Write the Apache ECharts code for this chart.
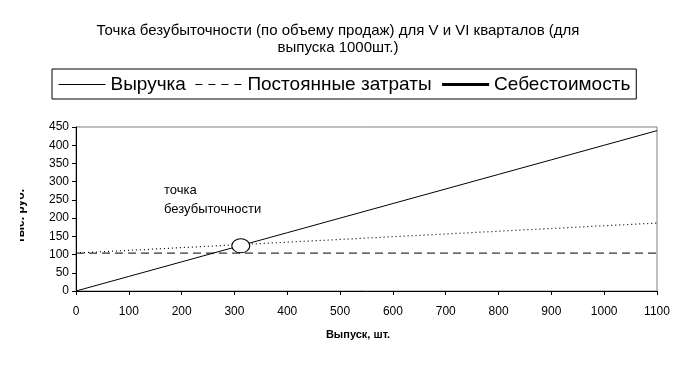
<!DOCTYPE html>
<html><head><meta charset="utf-8">
<script src="https://cdn.jsdelivr.net/npm/echarts@6/dist/echarts.min.js"></script>
<style>html,body{margin:0;padding:0;background:#fff}#c{width:692px;height:367px}</style>
</head><body><div id="c"></div>
<script>
const titleText = "Точка безубыточности (по объему продаж) для V и VI кварталов (для\nвыпуска 1000шт.)";
const seriesNames = ["Выручка", "Постоянные затраты", "Себестоимость"];
const output = [0, 100, 200, 300, 400, 500, 600, 700, 800, 900, 1000, 1100];
const revenue = [0, 40, 80, 120, 160, 200, 240, 280, 320, 360, 400, 440];
const fixedCosts = [104, 104, 104, 104, 104, 104, 104, 104, 104, 104, 104, 104];
const totalCost = [104, 111.5, 119, 126.5, 134, 141.5, 149, 156.5, 164, 171.5, 179, 186.5];
const breakEvenX = [312];
const breakEvenY = [124];
const breakEvenLabel = "точка\nбезубыточности";
const xAxisName = "Выпуск, шт.";
const yAxisName = "тыс. руб.";

const font = "'Liberation Sans', Arial, sans-serif";
const pairs = a => output.map((x, i) => [x, a[i]]);

const chart = echarts.init(document.getElementById('c'), null, {renderer: 'canvas'});
chart.setOption({
  animation: false,
  backgroundColor: '#fff',
  textStyle: {fontFamily: font, color: '#000'},
  title: {
    text: titleText, left: 333, top: 17, textAlign: 'center',
    textStyle: {fontSize: 15, fontWeight: 'normal', color: '#000', fontFamily: font, lineHeight: 17}
  },
  legend: {
    left: 52, top: 69, padding: [6, 6, 5, 6], itemGap: 9, itemWidth: 47, itemHeight: 10,
    borderColor: '#000', borderWidth: 1,
    textStyle: {fontSize: 19, color: '#000', fontFamily: font},
    data: [
      {name: seriesNames[0], itemStyle: {opacity: 0}, lineStyle: {width: 1, color: '#000', type: 'solid'}},
      {name: seriesNames[1], itemStyle: {opacity: 0}, lineStyle: {width: 1, color: '#000', type: [7, 6]}},
      {name: seriesNames[2], itemStyle: {opacity: 0}, lineStyle: {width: 3, color: '#000', type: 'solid'}}
    ]
  },
  grid: {left: 76, top: 127, width: 581, height: 164, show: true, borderColor: '#808080', borderWidth: 1},
  xAxis: {
    type: 'value', min: 0, max: 1100, interval: 100,
    axisLine: {lineStyle: {color: '#000'}},
    axisTick: {length: 4, lineStyle: {color: '#000'}},
    axisLabel: {fontSize: 12, color: '#000', margin: 15, fontFamily: font, formatter: v => String(v)},
    splitLine: {show: false}
  },
  yAxis: {
    type: 'value', min: 0, max: 450, interval: 50,
    axisLine: {show: true, lineStyle: {color: '#000'}},
    axisTick: {show: true, length: 4, lineStyle: {color: '#000'}},
    axisLabel: {fontSize: 12, color: '#000', margin: 7, fontFamily: font, formatter: v => String(v)},
    splitLine: {show: false}
  },
  series: [
    {name: seriesNames[0], type: 'line', data: pairs(revenue), symbol: 'none',
      lineStyle: {color: '#000', width: 1}, itemStyle: {color: '#000'}, z: 3},
    {name: seriesNames[1], type: 'line', data: pairs(fixedCosts), symbol: 'none',
      lineStyle: {color: '#000', width: 1, type: [8, 5]}, itemStyle: {color: '#000'}, z: 3},
    {name: seriesNames[2], type: 'line', data: pairs(totalCost), symbol: 'none',
      lineStyle: {color: '#000', width: 1.2, type: [1, 3]}, itemStyle: {color: '#000'}, z: 3},
    {name: 'bep', type: 'scatter', data: breakEvenX.map((x, i) => [x, breakEvenY[i]]),
      symbol: 'circle', symbolSize: [18, 14],
      itemStyle: {color: '#fff', borderColor: '#000', borderWidth: 1, opacity: 1}, z: 5,
      label: {show: false}}
  ],
  graphic: [
    {type: 'text', left: 164, top: 181,
      style: {text: breakEvenLabel, fontSize: 13, fill: '#000', fontFamily: font, lineHeight: 19}},
    {type: 'text', x: 358, y: 335,
      style: {text: xAxisName, fontSize: 11, fontWeight: 'bold', fill: '#000', fontFamily: font,
        textAlign: 'center', textVerticalAlign: 'middle'}},
    {type: 'text', x: 27, y: 216, rotation: Math.PI / 2,
      style: {text: yAxisName, fontSize: 12, fontWeight: 'bold', fill: '#000', fontFamily: font,
        textAlign: 'center', textVerticalAlign: 'bottom'}},
    {type: 'rect', shape: {x: 0, y: 180, width: 20, height: 70}, style: {fill: '#fff'}, z: 100}
  ]
});
</script></body></html>
